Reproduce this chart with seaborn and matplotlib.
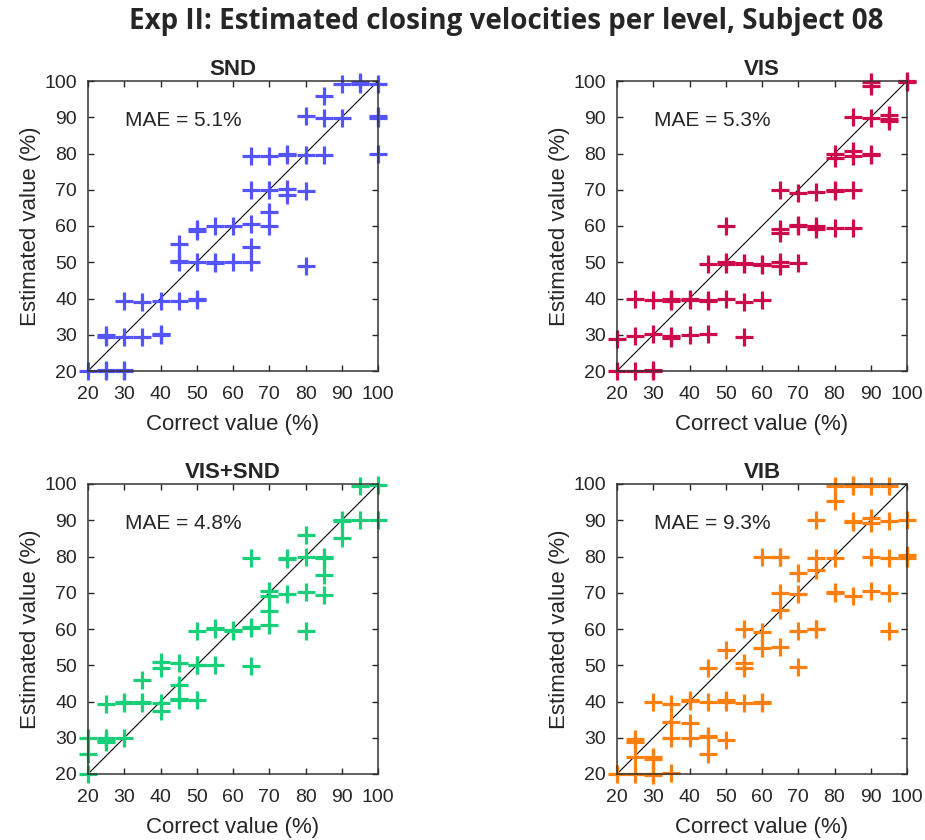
import matplotlib
matplotlib.use("Agg")
import matplotlib.pyplot as plt
import seaborn as sns
import pandas as pd

# estimated vs correct closing velocity, one list pair per condition
snd_x = [20, 25, 25, 30, 30, 25, 25, 30, 35, 40, 40, 30, 35, 40, 45, 50, 50,
         45, 45, 45, 50, 50, 50, 55, 55, 55, 60, 60, 65, 65, 65, 65, 65,
         70, 70, 70, 70, 75, 75, 75, 75, 80, 80, 80, 80, 85, 85, 85,
         90, 90, 95, 95, 100, 100, 100, 100]
snd_y = [20, 20, 20.3, 20, 20.4, 29.5, 30, 29.5, 29.3, 29.8, 30.2, 39.2, 39, 39.2, 39.2, 39.5, 40,
         55, 50, 50.4, 50, 59.2, 58.5, 49.8, 50.2, 59.9, 50, 60, 50, 54.1, 60.5, 70, 79.4,
         79.4, 70, 63.8, 60, 79.6, 80, 70.3, 68.6, 79.7, 69.7, 49.1, 90.4, 79.7, 89.7, 95.9,
         89.7, 99.2, 99.2, 99.6, 99.2, 90.4, 89.7, 79.8]

vis_x = [20, 20, 25, 25, 25, 30, 30, 30, 30, 35, 35, 35, 35, 35, 40, 40, 40,
         45, 45, 45, 45, 50, 50, 50, 50, 55, 55, 55, 55, 60, 60, 60,
         65, 65, 65, 65, 65, 70, 70, 70, 70, 75, 75, 75, 80, 80, 80, 80, 80,
         85, 85, 85, 85, 85, 90, 90, 90, 90, 90, 95, 95, 95, 100, 100]
vis_y = [20, 28.8, 20, 29.7, 40, 20.3, 20, 30.1, 39.5, 29.7, 29, 39.5, 39.8, 39.2, 30, 39.6, 40,
         30.1, 39.3, 39.6, 49.5, 40, 49.5, 50, 60, 29.4, 39, 49.5, 49.8, 39.5, 49.2, 49.5,
         50, 49, 59.3, 58, 69.8, 49.7, 60, 60.4, 69, 60, 59.2, 69.5, 59.4, 69.6, 70, 80, 78.7,
         59.4, 70, 80.6, 79.3, 90, 79.5, 79.8, 89.7, 99.6, 98.6, 90.6, 89, 89.4, 99.6, 100]

vs_x = [20, 20, 20, 25, 25, 25, 25, 30, 30, 30, 35, 35, 35, 40, 40, 40, 40,
        45, 45, 45, 45, 50, 50, 50, 50, 55, 55, 55, 60, 60, 65, 65, 65, 65,
        70, 70, 70, 70, 75, 75, 75, 80, 80, 80, 80, 85, 85, 85, 85,
        90, 90, 90, 95, 95, 100, 100]
vs_y = [20, 25.4, 29.8, 30, 28.7, 29.2, 39.3, 29.8, 39.6, 39.9, 39.6, 40, 45.8, 39.6, 37.5, 50.9, 49.3,
        50.5, 44.6, 40.5, 40.8, 40.5, 50.2, 50, 59.5, 50.2, 60.2, 60, 59.5, 59.8, 60.5, 60.2, 49.8, 79.6,
        61.1, 65, 69, 70.4, 69.6, 79.4, 79.7, 70.1, 59.4, 79.8, 85.9, 79.8, 79.5, 75, 69.4,
        90, 89.8, 85.1, 90, 99.4, 99.6, 90.2]

vib_x = [20, 25, 25, 25, 25, 30, 30, 30, 30, 30, 35, 35, 35, 35, 40, 40, 40, 40,
         45, 45, 45, 45, 45, 50, 50, 50, 50, 55, 55, 55, 55, 60, 60, 60, 60, 60,
         65, 65, 65, 65, 65, 70, 70, 70, 70, 75, 75, 75, 75, 75, 80, 80, 80, 80, 80,
         85, 85, 85, 85, 85, 90, 90, 90, 90, 90, 95, 95, 95, 95, 95, 100, 100, 100]
vib_y = [20, 20, 24.8, 29.7, 28.8, 20, 19.8, 24.2, 24.6, 39.8, 20.4, 34.4, 30, 39.4, 34, 30, 40.4, 40.1,
         30.6, 30.3, 25.5, 39.8, 49.2, 29.4, 40.3, 40, 54.1, 39.6, 50.5, 49.3, 60.1,
         39.6, 39.8, 54.8, 59.2, 79.8, 55, 65.2, 69.8, 79.8, 80, 49.6, 59.4, 69.6, 75.5,
         59.9, 60.1, 76.4, 79.6, 90.2, 69.8, 70.1, 79.6, 95.3, 99.4,
         99.4, 99.6, 89.7, 89.4, 69.2, 99.4, 90.6, 89.2, 79.8, 70.4,
         99.4, 89.7, 79.5, 70, 59.4, 90, 80.4, 79.5]

titles = ["SND", "VIS", "VIS+SND", "VIB"]
mae = [5.1, 5.3, 4.8, 9.3]
colors = ["#5555ff", "#cc0a4c", "#18cf7a", "#ff7f0f"]
xs = [snd_x, vis_x, vs_x, vib_x]
ys = [snd_y, vis_y, vs_y, vib_y]
ticks = [20, 30, 40, 50, 60, 70, 80, 90, 100]

sns.set_theme(style="ticks")
plt.rcParams['font.family'] = ['Liberation Sans', 'DejaVu Sans']

fig = plt.figure(figsize=(9.25, 8.4), dpi=100)
W, H = 925, 840
boxes = [(88, 81), (617, 81), (88, 484), (617, 484)]
size = 290

for i in range(4):
    left, top = boxes[i]
    ax = fig.add_axes([left / W, 1 - (top + size) / H, size / W, size / H])
    df = pd.DataFrame({"correct": xs[i], "estimated": ys[i]})
    ax.plot([20, 100], [20, 100], color="black", lw=0.8, zorder=1)
    sns.scatterplot(data=df, x="correct", y="estimated", marker="+", s=160,
                    linewidth=2.3, color=colors[i], ax=ax, zorder=2, clip_on=False)
    ax.set_xlim(20, 100)
    ax.set_ylim(20, 100)
    ax.set_xticks(ticks)
    ax.set_yticks(ticks)
    ax.tick_params(direction="in", length=4, width=1, top=True, right=True,
                   labelsize=14, colors="#262626")
    ax.tick_params(axis="x", pad=11)
    ax.tick_params(axis="y", pad=8)
    for sp in ax.spines.values():
        sp.set_color("#333333")
        sp.set_linewidth(1.1)
    ax.set_xlabel("Correct value (%)", fontsize=16, color="#262626", labelpad=8)
    ax.set_ylabel("Estimated value (%)", fontsize=16, color="#262626", labelpad=2)
    ax.set_title(titles[i], fontsize=16, fontweight="bold", pad=4)
    ax.text(30.3, 89.2, "MAE = %.1f%%" % mae[i], fontsize=15, va="center", ha="left")

fig.text(506 / W, 1 - 22 / H, "Exp II: Estimated closing velocities per level, Subject 08",
         ha="center", va="center", fontsize=20, fontweight="bold", family=["Open Sans", "DejaVu Sans"])

fig.savefig("out.png", dpi=100)
